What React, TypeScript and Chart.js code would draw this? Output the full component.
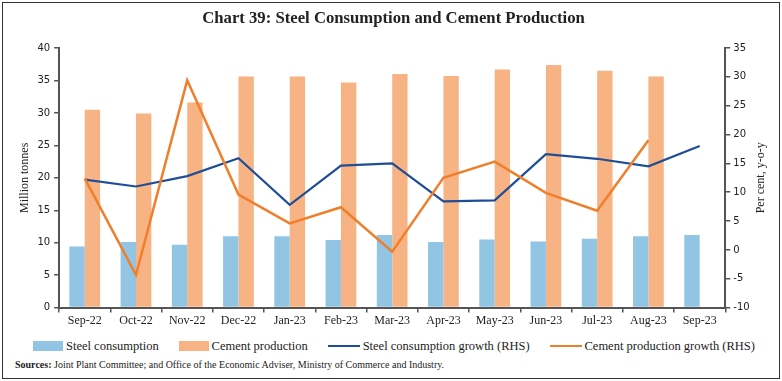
import React, { useEffect, useRef } from "react";
import { Chart, registerables } from "chart.js";

Chart.register(...registerables);

const categories = ["Sep-22", "Oct-22", "Nov-22", "Dec-22", "Jan-23", "Feb-23", "Mar-23", "Apr-23", "May-23", "Jun-23", "Jul-23", "Aug-23", "Sep-23"];
const steelConsumption = [9.4, 10.1, 9.7, 11.0, 11.0, 10.4, 11.2, 10.1, 10.5, 10.2, 10.6, 11.0, 11.2];
const cementProduction = [30.5, 29.9, 31.6, 35.6, 35.6, 34.7, 36.0, 35.7, 36.7, 37.4, 36.5, 35.6, null];
const steelGrowth = [12.2, 11.0, 12.8, 15.9, 7.8, 14.6, 15.0, 8.4, 8.6, 16.6, 15.8, 14.5, 18.0];
const cementGrowth = [12.4, -4.3, 29.4, 9.6, 4.6, 7.4, -0.3, 12.5, 15.3, 9.9, 6.8, 19.0, null];

const leftTicks = { min: 0, max: 40, step: 5 };
const rightTicks = { min: -10, max: 35, step: 5 };

const seriesNames = ["Steel consumption", "Cement production", "Steel consumption growth (RHS)", "Cement production growth (RHS)"];

const COLORS = {
  steelBar: "#92C4E4",
  cementBar: "#F8B384",
  steelLine: "#1F4E96",
  cementLine: "#F07F2C",
  axis: "#555555",
  text: "#222222",
};

const SERIF = "'Liberation Serif', 'DejaVu Serif', serif";
const SANS = "'DejaVu Sans', sans-serif";
const RIGHT_TITLE = "Per cent, y-o-y";

const rightTitlePlugin = {
  id: "rightTitle",
  afterDraw(chart: any) {
    const s = chart.scales.y1;
    const ctx = chart.ctx;
    ctx.save();
    ctx.translate(s.right - 8, (chart.chartArea.top + chart.chartArea.bottom) / 2);
    ctx.rotate(-Math.PI / 2);
    ctx.textAlign = "center";
    ctx.textBaseline = "middle";
    ctx.font = `12px ${SERIF}`;
    ctx.fillStyle = COLORS.text;
    ctx.fillText(RIGHT_TITLE, 0, 0);
    ctx.restore();
  },
};

const legendItems = [
  { label: seriesNames[0], color: COLORS.steelBar, kind: "box" },
  { label: seriesNames[1], color: COLORS.cementBar, kind: "box" },
  { label: seriesNames[2], color: COLORS.steelLine, kind: "line" },
  { label: seriesNames[3], color: COLORS.cementLine, kind: "line" },
];

export default function App() {
  const canvasRef = useRef<HTMLCanvasElement | null>(null);

  useEffect(() => {
    document.body.style.margin = "0";
    const canvas = canvasRef.current;
    if (!canvas) return;
    const chart = new Chart(canvas, {
      type: "bar",
      plugins: [rightTitlePlugin],
      data: {
        labels: categories,
        datasets: [
          {
            type: "bar",
            label: seriesNames[0],
            data: steelConsumption,
            backgroundColor: COLORS.steelBar,
            yAxisID: "y",
            order: 2,
            categoryPercentage: 0.6,
            barPercentage: 1.0,
          },
          {
            type: "bar",
            label: seriesNames[1],
            data: cementProduction,
            backgroundColor: COLORS.cementBar,
            yAxisID: "y",
            order: 2,
            categoryPercentage: 0.6,
            barPercentage: 1.0,
          },
          {
            type: "line",
            label: seriesNames[2],
            data: steelGrowth,
            borderColor: COLORS.steelLine,
            backgroundColor: COLORS.steelLine,
            borderWidth: 2.2,
            pointRadius: 0,
            tension: 0,
            yAxisID: "y1",
            order: 1,
          },
          {
            type: "line",
            label: seriesNames[3],
            data: cementGrowth,
            borderColor: COLORS.cementLine,
            backgroundColor: COLORS.cementLine,
            borderWidth: 2.5,
            pointRadius: 0,
            tension: 0,
            yAxisID: "y1",
            order: 0,
          },
        ],
      } as any,
      options: {
        animation: false,
        responsive: false,
        maintainAspectRatio: false,
        layout: { padding: { left: 15, right: 10, top: 0, bottom: 0 } },
        plugins: {
          tooltip: { enabled: false },
          legend: { display: false },
          title: {
            display: true,
            text: "Chart 39: Steel Consumption and Cement Production",
            color: COLORS.text,
            font: { family: SERIF, size: 16.7, weight: "bold" },
            padding: { top: 6, bottom: 19 },
          },
        },
        scales: {
          x: {
            offset: true,
            grid: {
              display: true,
              offset: true,
              drawOnChartArea: false,
              drawTicks: true,
              tickLength: 5,
              color: COLORS.axis,
              lineWidth: 1.5,
            },
            border: { display: true, color: COLORS.axis, width: 2 },
            ticks: {
              color: COLORS.text,
              font: { family: SERIF, size: 12 },
              maxRotation: 0,
              autoSkip: false,
              padding: 1,
            },
          },
          y: {
            position: "left",
            min: leftTicks.min,
            max: leftTicks.max,
            grid: {
              display: true,
              drawOnChartArea: false,
              drawTicks: true,
              tickLength: 5,
              color: COLORS.axis,
              lineWidth: 1.5,
            },
            border: { display: true, color: COLORS.axis, width: 2 },
            ticks: {
              stepSize: leftTicks.step,
              color: COLORS.text,
              font: { family: SANS, size: 10 },
              padding: 4,
            },
            title: {
              display: true,
              text: "Million tonnes",
              color: COLORS.text,
              font: { family: SERIF, size: 12 },
              padding: { top: 0, bottom: 1 },
            },
          },
          y1: {
            position: "right",
            min: rightTicks.min,
            max: rightTicks.max,
            grid: {
              display: true,
              drawOnChartArea: false,
              drawTicks: true,
              tickLength: 5,
              color: COLORS.axis,
              lineWidth: 1.5,
            },
            border: { display: true, color: COLORS.axis, width: 2 },
            ticks: {
              stepSize: rightTicks.step,
              color: COLORS.text,
              font: { family: SANS, size: 10 },
              padding: 3,
            },
            title: {
              display: true,
              text: RIGHT_TITLE,
              color: "rgba(0,0,0,0)",
              font: { family: SERIF, size: 12 },
              padding: { top: 2, bottom: 0 },
            },
          },
        },
      } as any,
    });
    return () => chart.destroy();
  }, []);

  return (
    <div
      style={{
        position: "absolute",
        left: 2,
        top: 2,
        width: 776,
        height: 375,
        border: "1px solid #333",
        background: "#fff",
        fontFamily: SERIF,
      }}
    >
      <canvas ref={canvasRef} width={776} height={326} style={{ display: "block", width: 776, height: 326 }} />
      <div
        style={{
          position: "absolute",
          left: 30,
          top: 334,
          width: 722,
          height: 18,
          display: "flex",
          alignItems: "center",
          justifyContent: "space-between",
          fontSize: 12.5,
          color: COLORS.text,
          whiteSpace: "nowrap",
        }}
      >
        {legendItems.map((it) => (
          <div key={it.label} style={{ display: "flex", alignItems: "center" }}>
            {it.kind === "box" ? (
              <span style={{ display: "inline-block", width: 30, height: 10, background: it.color, marginRight: 3 }} />
            ) : (
              <span style={{ display: "inline-block", width: 32, height: 2, background: it.color, marginRight: 3 }} />
            )}
            <span>{it.label}</span>
          </div>
        ))}
      </div>
      <div style={{ position: "absolute", left: 12, top: 356, fontSize: 10, color: "#222", whiteSpace: "nowrap" }}>
        <b>Sources:</b> Joint Plant Committee; and Office of the Economic Adviser, Ministry of Commerce and Industry.
      </div>
    </div>
  );
}
